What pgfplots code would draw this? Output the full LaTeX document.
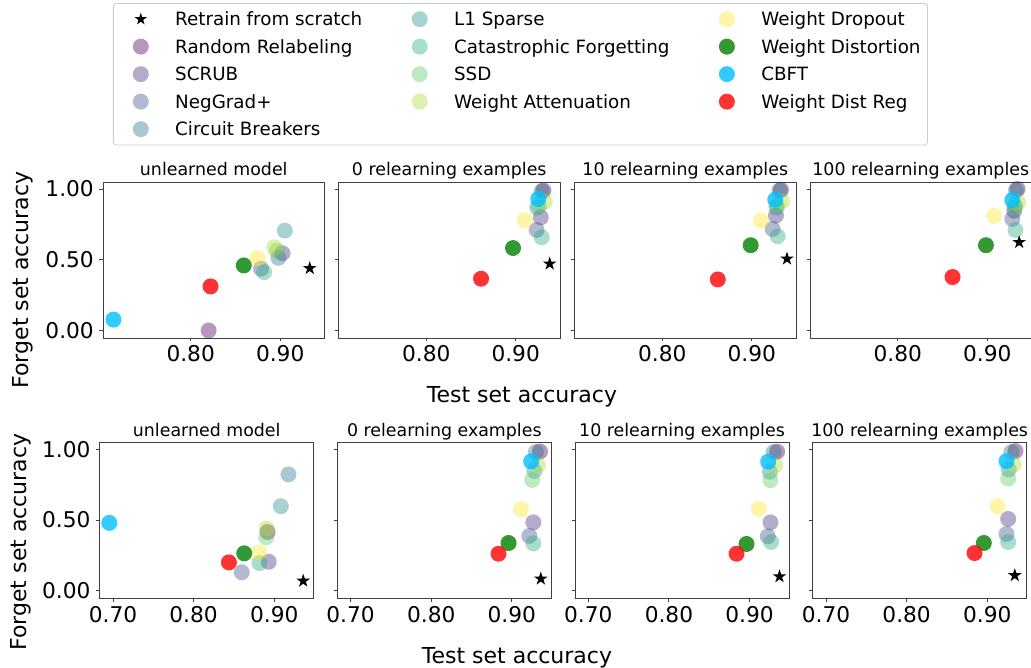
\documentclass[border=0pt]{standalone}
\usepackage{pgfplots}
\pgfplotsset{compat=1.18}
\usepackage{pgfplotstable}
\usepackage{fontspec}
\setmainfont{DejaVu Sans}

\definecolor{v0}{HTML}{440154}
\definecolor{v1}{HTML}{472C7A}
\definecolor{v2}{HTML}{3B528B}
\definecolor{v3}{HTML}{2C728E}
\definecolor{v4}{HTML}{21918C}
\definecolor{v5}{HTML}{27AD81}
\definecolor{v6}{HTML}{5DC863}
\definecolor{v7}{HTML}{AADC32}
\definecolor{v8}{HTML}{FDE725}
\definecolor{wgreen}{HTML}{008000}
\definecolor{wred}{HTML}{FF0000}
\definecolor{wsky}{HTML}{00BFFF}

\pgfdeclareplotmark{fcirc}{\pgfpathcircle{\pgfpointorigin}{\pgfplotmarksize}\pgfusepathqfill}
\pgfdeclareplotmark{fstar}{%
  \pgfpathmoveto{\pgfpointpolar{90}{\pgfplotmarksize}}%
  \pgfpathlineto{\pgfpointpolar{126}{0.382\pgfplotmarksize}}%
  \pgfpathlineto{\pgfpointpolar{162}{\pgfplotmarksize}}%
  \pgfpathlineto{\pgfpointpolar{198}{0.382\pgfplotmarksize}}%
  \pgfpathlineto{\pgfpointpolar{234}{\pgfplotmarksize}}%
  \pgfpathlineto{\pgfpointpolar{270}{0.382\pgfplotmarksize}}%
  \pgfpathlineto{\pgfpointpolar{306}{\pgfplotmarksize}}%
  \pgfpathlineto{\pgfpointpolar{342}{0.382\pgfplotmarksize}}%
  \pgfpathlineto{\pgfpointpolar{18}{\pgfplotmarksize}}%
  \pgfpathlineto{\pgfpointpolar{54}{0.382\pgfplotmarksize}}%
  \pgfpathclose\pgfusepathqfill}

% row 1: unlearned, 0, 10, 100 relearning examples
\pgfplotstableread{
m x y
rt 0.933 0.440
rr 0.820 0.000
scrub 0.9026 0.546
ng 0.8785 0.437
cb 0.898 0.514
l1 0.9052 0.706
cf 0.882 0.413
ssd 0.8963 0.565
wa 0.8933 0.589
wdrop 0.8748 0.511
wdist 0.8593 0.460
cbft 0.7137 0.077
wdr 0.8222 0.312
}\tabAa
\pgfplotstableread{
m x y
rt 0.938 0.472
rr 0.931 0.990
scrub 0.928 0.800
ng 0.9234 0.711
cb 0.929 0.985
l1 0.924 0.870
cf 0.929 0.659
ssd 0.926 0.880
wa 0.9326 0.911
wdrop 0.910 0.780
wdist 0.897 0.583
cbft 0.9252 0.930
wdr 0.8613 0.366
}\tabAb
\pgfplotstableread{
m x y
rt 0.9394 0.507
rr 0.9327 0.995
scrub 0.9271 0.812
ng 0.9234 0.718
cb 0.931 0.990
l1 0.9279 0.870
cf 0.929 0.666
ssd 0.928 0.885
wa 0.934 0.913
wdrop 0.9104 0.777
wdist 0.8989 0.603
cbft 0.9263 0.925
wdr 0.8621 0.361
}\tabAc
\pgfplotstableread{
m x y
rt 0.9357 0.624
rr 0.9339 1.000
scrub 0.9302 0.847
ng 0.928 0.789
cb 0.932 0.990
l1 0.931 0.882
cf 0.9316 0.711
ssd 0.931 0.870
wa 0.9346 0.906
wdrop 0.9078 0.810
wdist 0.8986 0.603
cbft 0.928 0.922
wdr 0.8613 0.378
}\tabAd
% row 2
\pgfplotstableread{
m x y
rt 0.936 0.070
rr 0.8918 0.416
scrub 0.8932 0.205
ng 0.8597 0.131
cb 0.9177 0.823
l1 0.9083 0.598
cf 0.8817 0.196
ssd 0.8900 0.378
wa 0.8906 0.440
wdrop 0.8814 0.272
wdist 0.8628 0.265
cbft 0.6954 0.480
wdr 0.8438 0.201
}\tabBa
\pgfplotstableread{
m x y
rt 0.936 0.085
rr 0.935 0.985
scrub 0.9267 0.484
ng 0.9217 0.388
cb 0.930 0.982
l1 0.928 0.848
cf 0.9267 0.335
ssd 0.9252 0.784
wa 0.9324 0.888
wdrop 0.9114 0.575
wdist 0.896 0.338
cbft 0.924 0.915
wdr 0.8835 0.262
}\tabBb
\pgfplotstableread{
m x y
rt 0.9372 0.101
rr 0.9343 0.984
scrub 0.926 0.484
ng 0.9227 0.385
cb 0.930 0.980
l1 0.9252 0.842
cf 0.9269 0.345
ssd 0.926 0.782
wa 0.9322 0.887
wdrop 0.9116 0.580
wdist 0.8963 0.331
cbft 0.9232 0.913
wdr 0.8839 0.262
}\tabBc
\pgfplotstableread{
m x y
rt 0.9342 0.109
rr 0.935 0.988
scrub 0.926 0.508
ng 0.9239 0.402
cb 0.930 0.981
l1 0.9267 0.858
cf 0.926 0.345
ssd 0.926 0.794
wa 0.933 0.894
wdrop 0.9131 0.598
wdist 0.8958 0.338
cbft 0.9239 0.917
wdr 0.8843 0.267
}\tabBd

\pgfplotsset{
  panel/.style={
    scale only axis, anchor=south west,
    height=156pt,
    ymin=-0.053, ymax=1.05,
    ytick={0,0.5,1}, yticklabels={},
    tick pos=left, tick align=outside, major tick length=3.5pt,
    axis line style={black!75, line width=0.9pt},
    tick style={black!75, line width=0.9pt},
    tick label style={font=\fontsize{21.7}{24}\selectfont},
    xticklabel style={anchor=base, inner sep=0pt, yshift=-20.5pt},
    yticklabel style={anchor=east, inner sep=0pt, xshift=-5.5pt},
    every axis title shift=0pt,
    title style={font=\fontsize{17.4}{20}\selectfont, anchor=base, at={(0.5,1)}, yshift=6pt, inner sep=0pt},
  },
  row1/.style={width=221.5pt, xmin=0.702, xmax=0.9495, xtick={0.8,0.9}, xticklabels={0.80,0.90}},
  row2/.style={width=214pt, xmin=0.6835, xmax=0.949, xtick={0.7,0.8,0.9}, xticklabels={0.70,0.80,0.90}},
  firstcol/.style={yticklabels={0.00,0.50,1.00}},
  methods/.style={
    only marks, scatter, scatter src=explicit symbolic,
    scatter/classes={
      rt={mark=fstar, mark size=7.2pt, black},
      rr={mark=fcirc, mark size=8pt, v0, fill opacity=0.4},
      scrub={mark=fcirc, mark size=8pt, v1, fill opacity=0.4},
      ng={mark=fcirc, mark size=8pt, v2, fill opacity=0.4},
      cb={mark=fcirc, mark size=8pt, v3, fill opacity=0.4},
      l1={mark=fcirc, mark size=8pt, v4, fill opacity=0.4},
      cf={mark=fcirc, mark size=8pt, v5, fill opacity=0.4},
      ssd={mark=fcirc, mark size=8pt, v6, fill opacity=0.4},
      wa={mark=fcirc, mark size=8pt, v7, fill opacity=0.4},
      wdrop={mark=fcirc, mark size=8pt, v8, fill opacity=0.4},
      wdist={mark=fcirc, mark size=8pt, wgreen, fill opacity=0.8},
      cbft={mark=fcirc, mark size=8pt, wsky, fill opacity=0.8},
      wdr={mark=fcirc, mark size=8pt, wred, fill opacity=0.8}
    }
  },
}

\begin{document}
\begin{tikzpicture}[x=1pt,y=1pt]
\useasboundingbox (0,0) rectangle (1031,667);

% ---------- Row 1 ----------
\begin{axis}[panel, row1, firstcol, at={(103pt,329pt)}, title={unlearned model},
  legend image code/.code={\draw[sharp corners,#1] plot coordinates {(0pt,0pt)}; \path (-20pt,0pt) (8pt,0pt);},
  legend columns=3, legend cell align=left,
  legend style={
    at={(0.0451,2.1474)}, anchor=north west,
    draw=black!20, line width=0.8pt, rounded corners=3pt, fill=white,
    font=\fontsize{18.3}{22}\selectfont,
    inner xsep=7pt, inner ysep=7pt,
    nodes={inner sep=0pt, text height=15.5pt, text depth=2pt},
    row sep=10pt,
    /tikz/every odd column/.style={column sep=26pt},
    /tikz/every even column/.style={column sep=37pt},
  }]
\addlegendimage{mark=fstar, mark size=6.5pt, black}
\addlegendentry{Retrain from scratch}
\addlegendimage{mark=fcirc, mark size=8pt, v4, fill opacity=0.4}
\addlegendentry{L1 Sparse}
\addlegendimage{mark=fcirc, mark size=8pt, v8, fill opacity=0.4}
\addlegendentry{Weight Dropout}
\addlegendimage{mark=fcirc, mark size=8pt, v0, fill opacity=0.4}
\addlegendentry{Random Relabeling}
\addlegendimage{mark=fcirc, mark size=8pt, v5, fill opacity=0.4}
\addlegendentry{Catastrophic Forgetting}
\addlegendimage{mark=fcirc, mark size=8pt, wgreen, fill opacity=0.8}
\addlegendentry{Weight Distortion}
\addlegendimage{mark=fcirc, mark size=8pt, v1, fill opacity=0.4}
\addlegendentry{SCRUB}
\addlegendimage{mark=fcirc, mark size=8pt, v6, fill opacity=0.4}
\addlegendentry{SSD}
\addlegendimage{mark=fcirc, mark size=8pt, wsky, fill opacity=0.8}
\addlegendentry{CBFT}
\addlegendimage{mark=fcirc, mark size=8pt, v2, fill opacity=0.4}
\addlegendentry{NegGrad+}
\addlegendimage{mark=fcirc, mark size=8pt, v7, fill opacity=0.4}
\addlegendentry{Weight Attenuation}
\addlegendimage{mark=fcirc, mark size=8pt, wred, fill opacity=0.8}
\addlegendentry{Weight Dist Reg}
\addlegendimage{mark=fcirc, mark size=8pt, v3, fill opacity=0.4}
\addlegendentry{Circuit Breakers}
\addplot[methods, forget plot] table[x=x,y=y,meta=m]{\tabAa};
\end{axis}

\begin{axis}[panel, row1, at={(338.5pt,329pt)}, title={0 relearning examples}]
\addplot[methods] table[x=x,y=y,meta=m]{\tabAb};
\end{axis}
\begin{axis}[panel, row1, at={(574.5pt,329pt)}, title={10 relearning examples}]
\addplot[methods] table[x=x,y=y,meta=m]{\tabAc};
\end{axis}
\begin{axis}[panel, row1, at={(810pt,329pt)}, title={100 relearning examples}]
\addplot[methods] table[x=x,y=y,meta=m]{\tabAd};
\end{axis}

% ---------- Row 2 ----------
\begin{axis}[panel, row2, firstcol, at={(99.7pt,68.7pt)}, title={unlearned model}]
\addplot[methods] table[x=x,y=y,meta=m]{\tabBa};
\end{axis}
\begin{axis}[panel, row2, at={(337.3pt,68.7pt)}, title={0 relearning examples}]
\addplot[methods] table[x=x,y=y,meta=m]{\tabBb};
\end{axis}
\begin{axis}[panel, row2, at={(575pt,68.7pt)}, title={10 relearning examples}]
\addplot[methods] table[x=x,y=y,meta=m]{\tabBc};
\end{axis}
\begin{axis}[panel, row2, at={(812.7pt,68.7pt)}, title={100 relearning examples}]
\addplot[methods] table[x=x,y=y,meta=m]{\tabBd};
\end{axis}

% figure-level labels
\node[anchor=base, font=\fontsize{22}{26}\selectfont, inner sep=0pt] at (522,264) {Test set accuracy};
\node[anchor=base, font=\fontsize{22}{26}\selectfont, inner sep=0pt] at (517,3.5) {Test set accuracy};
\node[rotate=90, anchor=base, font=\fontsize{22}{26}\selectfont, inner sep=0pt] at (28,387) {Forget set accuracy};
\node[rotate=90, anchor=base, font=\fontsize{22}{26}\selectfont, inner sep=0pt] at (27,125) {Forget set accuracy};
\end{tikzpicture}
\end{document}
